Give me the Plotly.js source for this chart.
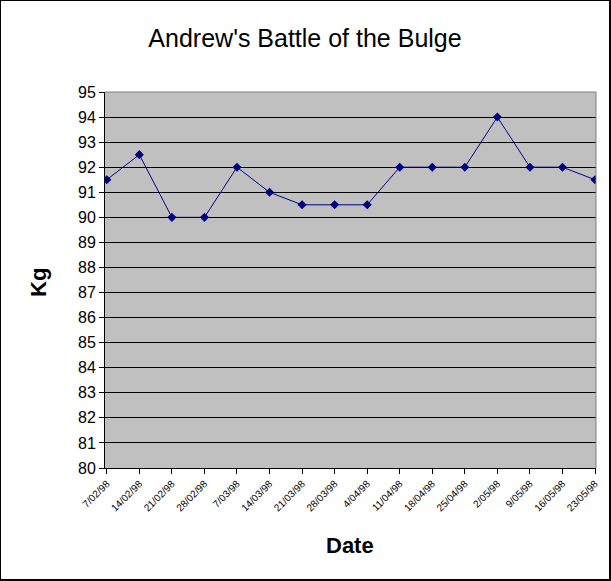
<!DOCTYPE html>
<html>
<head>
<meta charset="utf-8">
<script src="https://cdn.plot.ly/plotly-3.0.1.min.js"></script>
<style>
html, body { margin: 0; padding: 0; background: #fff; }
#wrap { position: relative; width: 611px; height: 581px; }
#chart { position: absolute; left: 0; top: 0; width: 611px; height: 581px; }
#frame { position: absolute; left: 0; top: 0; width: 608px; height: 578px;
  border-top: 1px solid #000; border-left: 1px solid #000;
  border-right: 2px solid #000; border-bottom: 2px solid #000; pointer-events: none; }
</style>
</head>
<body>
<div id="wrap"><div id="chart"></div><div id="frame"></div></div>
<script>
const dates = ["7/02/98","14/02/98","21/02/98","28/02/98","7/03/98","14/03/98","21/03/98","28/03/98",
  "4/04/98","11/04/98","18/04/98","25/04/98","2/05/98","9/05/98","16/05/98","23/05/98"];
const weights = [91.5, 92.5, 90, 90, 92, 91, 90.5, 90.5, 90.5, 92, 92, 92, 94, 92, 92, 91.5];
const yTicks = [80,81,82,83,84,85,86,87,88,89,90,91,92,93,94,95];

const idx = dates.map((d, i) => i);

const trace = {
  x: idx, y: weights, type: 'scatter', mode: 'lines+markers',
  line: { color: '#000080', width: 1 },
  marker: { symbol: 'diamond', size: 7, color: '#000080' },
  hoverinfo: 'skip'
};

const layout = {
  width: 611, height: 581,
  margin: { l: 105, r: 15, t: 92, b: 113, pad: 0 },
  paper_bgcolor: '#ffffff', plot_bgcolor: '#c0c0c0',
  showlegend: false,
  font: { family: 'Liberation Sans, Arial, sans-serif', color: '#000' },
  title: { text: "Andrew's Battle of the Bulge", x: 0.4992, xanchor: 'center', y: 1 - 38/581, yanchor: 'middle',
    font: { size: 25, family: 'Liberation Sans, Arial, sans-serif', color: '#000' } },
  xaxis: {
    range: [-0.055, 15.03], tickmode: 'array', tickvals: idx, ticktext: dates,
    tickangle: -45, ticks: 'outside', ticklen: 5, tickcolor: '#000', tickwidth: 1,
    tickfont: { size: 10, family: 'Liberation Sans, Arial, sans-serif', color: '#000' },
    showgrid: false, zeroline: false, showline: true, linecolor: '#000', linewidth: 1,
    fixedrange: true
  },
  yaxis: {
    range: [80, 95], tickmode: 'array', tickvals: yTicks, ticktext: yTicks.map(String),
    ticks: 'outside', ticklen: 5, tickcolor: '#000', tickwidth: 1,
    tickfont: { size: 16, family: 'Liberation Sans, Arial, sans-serif', color: '#000' },
    showgrid: true, gridcolor: '#000', gridwidth: 1, zeroline: false,
    showline: true, linecolor: '#000', linewidth: 1, fixedrange: true
  },
  shapes: [
    { type: 'line', xref: 'paper', yref: 'paper', x0: 0, x1: 1, y0: 1, y1: 1, line: { color: '#808080', width: 1 }, layer: 'above' },
    { type: 'line', xref: 'paper', yref: 'paper', x0: 1, x1: 1, y0: 0, y1: 1, line: { color: '#808080', width: 1 }, layer: 'above' }
  ],
  annotations: [
    { text: '<b>Kg</b>', xref: 'paper', yref: 'paper', x: (38-105)/491, y: (468-283)/376,
      xanchor: 'center', yanchor: 'middle', textangle: -90, showarrow: false,
      font: { size: 22, family: 'Liberation Sans, Arial, sans-serif', color: '#000' } },
    { text: '<b>Date</b>', xref: 'paper', yref: 'paper', x: (350-105)/491, y: (468-545)/376,
      xanchor: 'center', yanchor: 'middle', showarrow: false,
      font: { size: 22, family: 'Liberation Sans, Arial, sans-serif', color: '#000' } }
  ]
};

Plotly.newPlot('chart', [trace], layout, { displayModeBar: false, staticPlot: true });
</script>
</body>
</html>
